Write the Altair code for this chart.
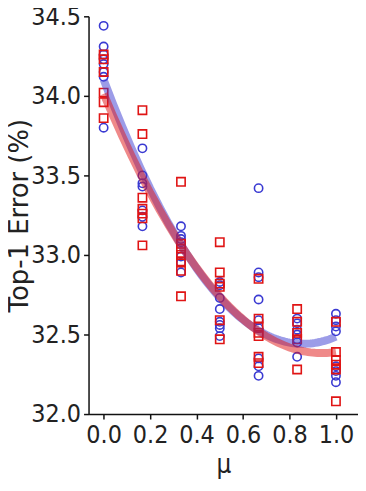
import altair as alt
import pandas as pd

mu_levels = [0.0, 0.167, 0.333, 0.5, 0.667, 0.833, 1.0]

blue_vals = [
    [34.44, 34.31, 34.26, 34.23, 34.20, 34.15, 34.12, 33.80],
    [33.67, 33.50, 33.45, 33.43, 33.28, 33.24, 33.18],
    [33.18, 33.12, 33.10, 33.08, 32.99, 32.95, 32.89],
    [32.83, 32.81, 32.73, 32.66, 32.58, 32.56, 32.54, 32.49],
    [33.42, 32.89, 32.86, 32.72, 32.59, 32.54, 32.35, 32.30, 32.24],
    [32.60, 32.57, 32.53, 32.50, 32.47, 32.45, 32.36],
    [32.63, 32.59, 32.55, 32.52, 32.30, 32.27, 32.24, 32.20],
]

red_vals = [
    [34.26, 34.23, 34.15, 34.02, 33.96, 33.86],
    [33.91, 33.76, 33.36, 33.29, 33.26, 33.23, 33.06],
    [33.46, 33.07, 33.04, 33.00, 32.96, 32.90, 32.74],
    [33.08, 32.89, 32.82, 32.80, 32.59, 32.47],
    [32.85, 32.60, 32.55, 32.51, 32.49, 32.36, 32.32],
    [32.66, 32.58, 32.51, 32.47, 32.28],
    [32.58, 32.39, 32.34, 32.31, 32.28, 32.08],
]

series_names = ["blue", "red"]
series_colors = ["#3a3ad2", "#e01414"]
series_shapes = ["circle", "square"]

x_ticks = [0.0, 0.2, 0.4, 0.6, 0.8, 1.0]
y_ticks = [32.0, 32.5, 33.0, 33.5, 34.0, 34.5]

rows = []
for name, vals in zip(series_names, [blue_vals, red_vals]):
    for mu, group in zip(mu_levels, vals):
        for v in group:
            rows.append({"mu": mu, "err": v, "series": name})
df = pd.DataFrame(rows)

FONT = "DejaVu Sans Condensed"

color = alt.Color("series:N", scale=alt.Scale(domain=series_names, range=series_colors), legend=None)
shape = alt.Shape("series:N", scale=alt.Scale(domain=series_names, range=series_shapes), legend=None)

xenc = alt.X(
    "mu:Q",
    title="μ",
    scale=alt.Scale(domain=[-0.065, 1.095], nice=False, zero=False),
    axis=alt.Axis(values=x_ticks, format=".1f", labelFlush=False, labelOverlap=False,
                  labelPadding=4, titlePadding=4, titleFontSize=26),
)
yenc = alt.Y(
    "err:Q",
    title="Top-1 Error (%)",
    scale=alt.Scale(domain=[32.0, 34.5], nice=False, zero=False),
    axis=alt.Axis(values=y_ticks, format=".1f", labelFlush=False, labelOverlap=False,
                  labelPadding=3, titleX=-69, titleY=200, titleAngle=-90,
                  titleAlign="center", titleBaseline="middle",
                  titleFont="DejaVu Sans", titleFontSize=26),
)

points = alt.Chart(df).mark_point(filled=False, strokeWidth=1.6, size=70, opacity=1).encode(
    x=xenc, y=yenc, color=color, shape=shape
)

lines = alt.Chart(df).transform_regression(
    "mu", "err", method="poly", order=2, groupby=["series"], extent=[0, 1]
).mark_line(strokeWidth=8, opacity=0.5).encode(
    x=alt.X("mu:Q"), y=alt.Y("err:Q"), color=color
)

chart = alt.layer(points, lines).properties(
    width=271, height=400,
    autosize=alt.AutoSizeParams(type="none"),
    padding={"left": 81, "top": 7, "right": 0, "bottom": 70},
).configure_view(stroke=None).configure_axis(
    grid=False,
    domainColor="#111111", domainWidth=1.5,
    tickColor="#111111", tickWidth=1.5, tickSize=5,
    labelFont=FONT, labelFontSize=25, labelColor="#222222",
    titleFont=FONT, titleFontSize=28, titleFontWeight="normal", titleColor="#222222",
)

chart.save("out.html", embed_options={"renderer": "svg", "actions": False})
